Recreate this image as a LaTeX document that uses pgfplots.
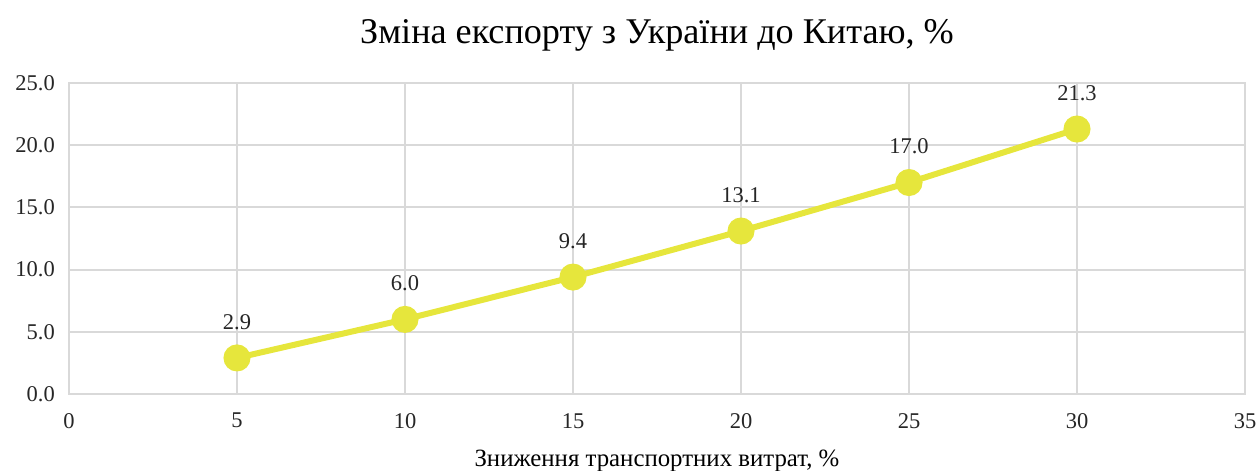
\documentclass[border=0pt]{standalone}
\usepackage{fontspec}
\setmainfont{Liberation Serif}
\usepackage{pgfplots}
\pgfplotsset{compat=1.18}
\usetikzlibrary{calc}
\definecolor{lineY}{RGB}{230,230,60}
\definecolor{gridG}{RGB}{217,217,217}
\begin{document}
\begin{tikzpicture}
\begin{axis}[
  scale only axis,
  width=705.6pt, height=186.6pt,
  xmin=0, xmax=35, ymin=0, ymax=25,
  xtick={0,5,...,35}, ytick={0,5,...,25},
  grid=major,
  major grid style={gridG, line width=1.2pt},
  axis line style={gridG, line width=1.2pt},
  tick style={draw=none},
  /pgf/number format/assume math mode=true,
  yticklabel style={/pgf/number format/fixed, /pgf/number format/fixed zerofill, /pgf/number format/precision=1, xshift=-5pt},
  ticklabel style={font=\fontsize{13.5}{15}\selectfont, text=black!85},
  xticklabel style={yshift=-8pt},
  xlabel={Зниження транспортних витрат, \%},
  xlabel style={font=\fontsize{14.9}{17}\selectfont, yshift=-6pt},
  title={Зміна експорту з України до Китаю, \%},
  title style={font=\fontsize{21.7}{25}\selectfont, yshift=9.6pt},
  nodes near coords,
  every node near coord/.append style={font=\fontsize{13.5}{15}\selectfont, text=black!85, yshift=12pt,
     /pgf/number format/fixed, /pgf/number format/fixed zerofill, /pgf/number format/precision=1},
]
\addplot[lineY, line width=3.6pt, mark=*, mark size=6.3pt, mark options={fill=lineY, draw=none}]
  coordinates {(5,2.9) (10,6.0) (15,9.4) (20,13.1) (25,17.0) (30,21.3)};
\end{axis}
\pgfresetboundingbox
\path[use as bounding box] ($(current axis.south west)+(-41.4pt,-45.6pt)$) rectangle ($(current axis.north east)+(7.8pt,49.8pt)$);
\end{tikzpicture}
\end{document}
